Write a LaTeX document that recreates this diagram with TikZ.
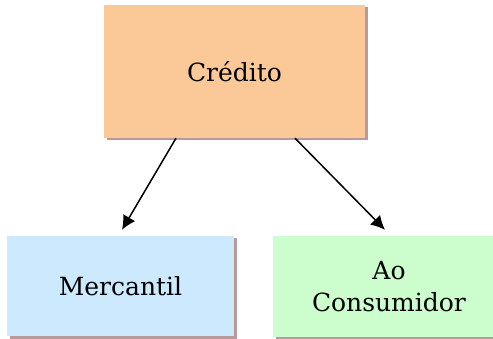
\documentclass[tikz,border=0pt]{standalone}
\usepackage{fontspec}
\setmainfont{DejaVu Serif}
\usepackage{tikz}
\usetikzlibrary{arrows.meta,shadows}
\tikzset{>={Latex[length=14pt,width=14pt]}}
\definecolor{orangebox}{HTML}{FBC997}
\definecolor{bluebox}{HTML}{CCE9FE}
\definecolor{greenbox}{HTML}{CCFDCC}
\definecolor{shadowcol}{HTML}{B99A9A}

\begin{document}
\begin{tikzpicture}[x=1pt,y=-1pt,
    caixa/.style={rectangle, inner sep=0pt, align=center,
      font=\fontsize{25}{32}\selectfont,
      drop shadow={shadow xshift=2.5pt, shadow yshift=-2.5pt, fill=shadowcol, opacity=1}},
    seta/.style={->, line width=1.5pt}]
  \useasboundingbox (0,0) rectangle (493,339);

  \node[caixa, fill=orangebox, minimum width=261pt, minimum height=133pt] (credito) at (234.5,71.5) {Cr\'edito};
  \node[caixa, fill=bluebox, minimum width=227pt, minimum height=100pt] (mercantil) at (120.5,286) {Mercantil};
  \node[caixa, fill=greenbox, minimum width=232pt, minimum height=101pt] (consumidor) at (389,286.5) {Ao\\Consumidor};

  \draw[seta] ([xshift=-58.5pt]credito.south) -- ([xshift=1.5pt,yshift=6pt]mercantil.north);
  \draw[seta] ([xshift=60.5pt]credito.south) -- ([xshift=-4pt,yshift=6pt]consumidor.north);
\end{tikzpicture}
\end{document}
